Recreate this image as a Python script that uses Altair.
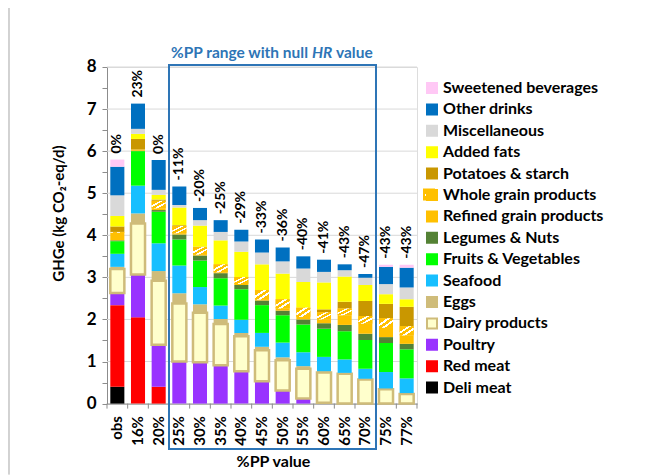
import altair as alt
import pandas as pd

# ---------------- data ----------------
pp_values = ["obs", "16%", "20%", "25%", "30%", "35%", "40%", "45%", "50%",
             "55%", "60%", "65%", "70%", "75%", "77%"]
change_labels = ["0%", "23%", "0%", "-11%", "-20%", "-25%", "-29%", "-33%",
                 "-36%", "-40%", "-41%", "-43%", "-47%", "-43%", "-43%"]

deli_meat = [0.40, 0, 0, 0, 0, 0, 0, 0, 0, 0, 0, 0, 0, 0, 0]
red_meat = [1.94, 2.05, 0.40, 0, 0, 0, 0, 0, 0, 0, 0, 0, 0, 0, 0]
poultry = [0.29, 1.02, 1.00, 1.00, 0.98, 0.91, 0.77, 0.53, 0.31, 0.12, 0.02, 0, 0, 0, 0]
dairy = [0.57, 1.21, 1.52, 1.38, 1.18, 0.98, 0.83, 0.74, 0.72, 0.71, 0.72, 0.71, 0.57, 0.34, 0.23]
eggs = [0.05, 0.24, 0.23, 0.24, 0.20, 0.12, 0.08, 0.08, 0.07, 0.06, 0.03, 0.02, 0.02, 0.02, 0.02]
seafood = [0.31, 0.66, 0.66, 0.66, 0.41, 0.32, 0.31, 0.33, 0.35, 0.33, 0.34, 0.32, 0.24, 0.39, 0.35]
fruits_veg = [0.30, 0.82, 0.75, 0.62, 0.63, 0.65, 0.73, 0.66, 0.65, 0.66, 0.67, 0.67, 0.68, 0.69, 0.69]
legumes_nuts = [0.02, 0.01, 0.04, 0.12, 0.12, 0.12, 0.10, 0.11, 0.11, 0.12, 0.13, 0.15, 0.15, 0.14, 0.13]
refined_grain = [0.18, 0.03, 0.04, 0.03, 0.02, 0.02, 0.02, 0.02, 0.05, 0.06, 0.09, 0.23, 0.24, 0.22, 0.20]
whole_grain = [0.02, 0, 0.18, 0.17, 0.18, 0.19, 0.17, 0.23, 0.22, 0.22, 0.17, 0.16, 0.18, 0.23, 0.22]
potatoes = [0.13, 0.25, 0.03, 0.02, 0.01, 0, 0, 0, 0, 0, 0.07, 0.16, 0.36, 0.34, 0.46]
added_fats = [0.25, 0.12, 0.11, 0.42, 0.50, 0.57, 0.60, 0.61, 0.61, 0.61, 0.64, 0.60, 0.38, 0.23, 0.18]
miscellaneous = [0.49, 0.12, 0.12, 0.06, 0.13, 0.20, 0.24, 0.28, 0.29, 0.32, 0.25, 0.15, 0.17, 0.24, 0.28]
other_drinks = [0.68, 0.60, 0.71, 0.44, 0.29, 0.28, 0.28, 0.31, 0.33, 0.29, 0.29, 0.14, 0.09, 0.41, 0.47]
sweetened_bev = [0.17, 0, 0, 0, 0, 0, 0, 0, 0, 0, 0, 0, 0, 0.05, 0.07]

# stacking order, bottom to top
groups = [
    ("Deli meat", deli_meat, "#000000", "#000000"),
    ("Red meat", red_meat, "#FF0000", "#FF0000"),
    ("Poultry", poultry, "#9933FF", "#9933FF"),
    ("Dairy products", dairy, "#FFFFCC", "#CFBC7A"),
    ("Eggs", eggs, "#CFBC7A", "#CFBC7A"),
    ("Seafood", seafood, "#17BFFF", "#17BFFF"),
    ("Fruits & Vegetables", fruits_veg, "#00FF00", "#00FF00"),
    ("Legumes & Nuts", legumes_nuts, "#548235", "#548235"),
    ("Refined grain products", refined_grain, "#FFC000", "#FFC000"),
    ("Whole grain products", whole_grain, "#FFC000", "#FFC000"),
    ("Potatoes & starch", potatoes, "#C99700", "#C99700"),
    ("Added fats", added_fats, "#FFFF00", "#FFFF00"),
    ("Miscellaneous", miscellaneous, "#D9D9D9", "#D9D9D9"),
    ("Other drinks", other_drinks, "#0070C0", "#0070C0"),
    ("Sweetened beverages", sweetened_bev, "#FFC8F5", "#FFC8F5"),
]
y_grid = [1, 2, 3, 4, 5, 6, 7, 8]

rows = []
totals = []
for i, p in enumerate(pp_values):
    base = 0.0
    for name, vals, _, _ in groups:
        v = vals[i]
        if v > 0:
            rows.append({"pp": p, "food": name, "y0": base, "y1": base + v})
        base += v
    totals.append(base)
seg = pd.DataFrame(rows)
lab = pd.DataFrame({"pp": pp_values, "total": totals, "label": change_labels})

legend_order = [g[0] for g in groups][::-1]
fill_range = [g[2] for g in groups][::-1]
stroke_range = [g[3] for g in groups][::-1]

FONT = "Lato"
BLUE = "#2E75B6"
AXIS_GRAY = "#8C8C8C"
W, H = 310, 336.6

hatch = {
    "gradient": "linear", "x1": 0, "y1": 0, "x2": 1, "y2": 1,
    "stops": [
        {"offset": 0.0, "color": "#FFC000"}, {"offset": 0.30, "color": "#FFC000"},
        {"offset": 0.30, "color": "#FFFFFF"}, {"offset": 0.42, "color": "#FFFFFF"},
        {"offset": 0.42, "color": "#FFC000"}, {"offset": 0.58, "color": "#FFC000"},
        {"offset": 0.58, "color": "#FFFFFF"}, {"offset": 0.70, "color": "#FFFFFF"},
        {"offset": 0.70, "color": "#FFC000"}, {"offset": 1.0, "color": "#FFC000"},
    ],
}

xscale = alt.Scale(domain=pp_values, paddingInner=0, paddingOuter=0)
yscale = alt.Scale(domain=[0, 8], nice=False, zero=True)

x_axis = alt.Axis(
    title="%PP value", labelAngle=270, labelFont=FONT, labelFontSize=15,
    labelFontWeight="bold", labelColor="black", labelPadding=12, ticks=False,
    domainColor=AXIS_GRAY, domainWidth=1, titleFont=FONT, titleFontSize=16,
    titleFontWeight="bold", titleColor="black", titleX=166, titleY=58,
    titleBaseline="middle", titleAlign="center",
)
y_axis = alt.Axis(
    title="GHGe (kg CO₂-eq/d)", values=[i * 0.5 for i in range(17)],
    labelExpr="datum.value % 1 === 0 ? format(datum.value, 'd') : ''",
    labelFont=FONT, labelFontSize=17, labelFontWeight="bold", labelColor="black",
    labelPadding=6, tickSize=5, tickColor=AXIS_GRAY, domainColor=AXIS_GRAY,
    grid=False, titleFont=FONT, titleFontSize=15, titleFontWeight="bold",
    titleColor="black", titleAngle=270, titleX=-49, titleY=146,
    titleAlign="center", titleBaseline="middle",
)

legend = alt.Legend(
    title=None, orient="none", legendX=317, legendY=13, symbolType="square",
    symbolSize=100, symbolStrokeWidth=2, labelFont=FONT, labelFontSize=16,
    labelFontWeight="bold", labelColor="black", labelOffset=3, rowPadding=3.4,
    padding=0, labelLimit=300,
)

grid = alt.Chart(pd.DataFrame({"v": y_grid})).mark_rule(
    color="#D9D9D9", strokeWidth=1
).encode(y=alt.Y("v:Q", scale=yscale, axis=y_axis))

bars = alt.Chart(seg).mark_bar(width=alt.RelativeBandSize(0.68)).encode(
    x=alt.X("pp:N", sort=pp_values, scale=xscale, axis=x_axis),
    y=alt.Y("y0:Q", scale=yscale, axis=y_axis),
    y2="y1:Q",
    fill=alt.Fill("food:N", scale=alt.Scale(domain=legend_order, range=fill_range), legend=legend),
    stroke=alt.Stroke("food:N", scale=alt.Scale(domain=legend_order, range=stroke_range), legend=legend),
    strokeWidth=alt.condition("datum.food == 'Dairy products'", alt.value(2.5), alt.value(0)),
)

hatched = alt.Chart(seg).transform_filter(
    "datum.food == 'Whole grain products'"
).mark_bar(width=alt.RelativeBandSize(0.68), fill=hatch).encode(
    x=alt.X("pp:N", sort=pp_values, scale=xscale, axis=x_axis),
    y=alt.Y("y0:Q", scale=yscale, axis=y_axis),
    y2="y1:Q",
)

labels = alt.Chart(lab).mark_text(
    angle=270, align="left", baseline="middle", dx=6, font=FONT, fontSize=14,
    fontWeight="bold", color="black",
).encode(
    x=alt.X("pp:N", sort=pp_values, scale=xscale, axis=x_axis),
    y=alt.Y("total:Q", scale=yscale, axis=y_axis),
    text="label:N",
)

xticks = alt.Chart(lab).mark_rule(color=AXIS_GRAY).encode(
    x=alt.X("pp:N", sort=pp_values, scale=xscale, bandPosition=0, axis=x_axis),
    y=alt.value(H), y2=alt.value(H + 5),
)
xtick_end = alt.Chart(lab.tail(1)).mark_rule(color=AXIS_GRAY).encode(
    x=alt.X("pp:N", sort=pp_values, scale=xscale, bandPosition=1, axis=x_axis),
    y=alt.value(H), y2=alt.value(H + 5),
)

one = pd.DataFrame({"a": [0]})
box = alt.Chart(one).mark_rect(filled=False, stroke=BLUE, strokeWidth=2).encode(
    x=alt.value(62), x2=alt.value(269), y=alt.value(-2), y2=alt.value(382)
)
t1 = alt.Chart(one).mark_text(align="right", baseline="middle", font=FONT, fontSize=15.5,
                              fontWeight="bold", color=BLUE).encode(
    x=alt.value(201), y=alt.value(-14), text=alt.value("%PP range with null"))
t2 = alt.Chart(one).mark_text(align="left", baseline="middle", font=FONT, fontSize=15.5,
                              fontWeight="bold", fontStyle="italic", color=BLUE).encode(
    x=alt.value(205), y=alt.value(-14), text=alt.value("HR"))
t3 = alt.Chart(one).mark_text(align="left", baseline="middle", font=FONT, fontSize=15.5,
                              fontWeight="bold", color=BLUE).encode(
    x=alt.value(229), y=alt.value(-14), text=alt.value("value"))

legend_hatch = alt.Chart(one).mark_square(size=100, fill=hatch, stroke="#FFC000",
                                          strokeWidth=2, opacity=1).encode(
    x=alt.value(322), y=alt.value(127.5))

frame = alt.Chart(one).mark_rule(color="#A6A6A6", strokeWidth=1).encode(
    x=alt.value(-98), y=alt.value(-59), y2=alt.value(H + 71)
)

chart = alt.layer(
    frame, grid, bars, hatched, labels, xticks, xtick_end, box, t1, t2, t3, legend_hatch
).properties(
    width=W, height=H,
    padding={"left": 99, "top": 59, "right": 224, "bottom": 71},
    autosize=alt.AutoSizeParams(type="none"),
).configure_view(stroke=None).configure(background="white")

chart.save("out.html", embed_options={"renderer": "svg", "actions": False})
